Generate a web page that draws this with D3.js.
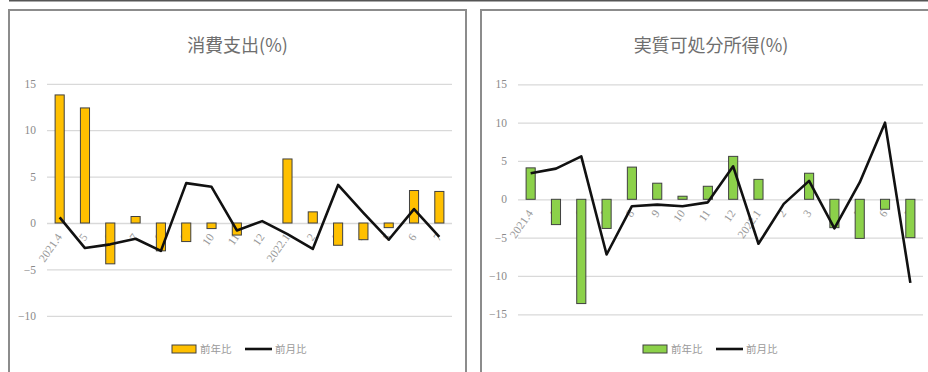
<!DOCTYPE html>
<html><head><meta charset="utf-8">
<script src="https://cdn.jsdelivr.net/npm/d3@7"></script>
<style>body{margin:0;background:#fff}svg{display:block}</style>
</head><body>
<svg id="c" width="928" height="372"></svg>
<script>
const categories = ["2021.4","5","6","7","8","9","10","11","12","2022.1","2","3","4","5","6","7"];
const spendYoY = [13.8,12.4,-4.4,0.7,-3.0,-2.0,-0.6,-1.3,0,6.9,1.2,-2.4,-1.8,-0.5,3.5,3.4];
const spendMoM = [0.6,-2.7,-2.3,-1.7,-3.0,4.3,3.9,-0.8,0.2,-1.2,-2.8,4.1,1.1,-1.8,1.5,-1.5];
const incomeYoY = [4.1,-3.3,-13.6,-3.8,4.2,2.1,0.4,1.7,5.6,2.6,0,3.4,-3.7,-5.1,-1.3,-5.0];
const incomeMoM = [3.4,4.0,5.6,-7.2,-0.9,-0.7,-0.9,-0.4,4.3,-5.8,-0.6,2.4,-3.8,2.2,10.0,-10.9];
const spendTicks = [-10,-5,0,5,10,15];
const incomeTicks = [-15,-10,-5,0,5,10,15];
const legendLabels = ["前年比","前月比"];

const svg = d3.select("#c");
svg.append("line").attr("x1",9).attr("x2",928).attr("y1",0.5).attr("y2",0.5).attr("stroke","#555").attr("stroke-width",2);

function panel(o){
  const g = svg.append("g");
  g.append("rect").attr("x",o.px).attr("y",10).attr("width",o.pw).attr("height",380)
    .attr("fill","#fff").attr("stroke","#8c8c8c").attr("stroke-width",2);
  g.append("text").attr("x",o.px+o.pw/2).attr("y",52).attr("text-anchor","middle")
    .attr("font-family","Noto Sans CJK JP").attr("font-size",18).attr("fill","#6e6e6e").text(o.title);
  const x = d3.scaleBand().domain(categories.map((c,i)=>i)).range([o.x0,o.x1]).paddingInner(0.64).paddingOuter(0.32);
  const y = d3.scaleLinear().domain(o.domain).range([o.y1,o.y0]);
  const yAxis = d3.axisLeft(y).tickValues(o.ticks).tickSize(-(o.x1-o.x0)).tickPadding(11).tickFormat(d3.format("d"));
  const ag = g.append("g").attr("transform",`translate(${o.x0},0)`).call(yAxis);
  ag.select(".domain").remove();
  ag.selectAll(".tick line").attr("stroke","#d9d9d9").attr("stroke-width",1.3);
  ag.selectAll(".tick text").attr("font-family","Liberation Serif").attr("font-size",11.5).attr("fill","#8a8a8a");
  const cx = i=>x(i)+x.bandwidth()/2;
  // x labels (under the bars)
  g.selectAll(".xl").data(categories).join("text")
    .attr("transform",(d,i)=>`translate(${cx(i)+3},${y(0)+14}) rotate(-55)`)
    .attr("text-anchor","end").attr("font-family","Liberation Serif").attr("font-size",11.5)
    .attr("fill","#9a9a9a").text(d=>d);
  // bars
  g.selectAll(".bar").data(o.bars).join("rect")
    .attr("x",(d,i)=>x(i)).attr("width",x.bandwidth())
    .attr("y",d=>y(Math.max(0,d))).attr("height",d=>Math.abs(y(d)-y(0)))
    .attr("fill",o.color).attr("stroke","#404040").attr("stroke-width",1);
  // line
  const line = d3.line().x((d,i)=>cx(i)).y(d=>y(d));
  g.append("path").datum(o.line).attr("d",line).attr("fill","none")
    .attr("stroke","#111").attr("stroke-width",2.6).attr("stroke-linejoin","round");
  // legend
  const lx = o.lx, ly = 349;
  g.append("rect").attr("x",lx).attr("y",ly-4).attr("width",24).attr("height",8)
    .attr("fill",o.color).attr("stroke","#404040").attr("stroke-width",1);
  g.append("text").attr("x",lx+28).attr("y",ly+4).attr("font-family","Noto Sans CJK JP").attr("font-size",10.5)
    .attr("fill","#9a9a9a").text(legendLabels[0]);
  g.append("line").attr("x1",lx+73).attr("x2",lx+100).attr("y1",ly).attr("y2",ly).attr("stroke","#111").attr("stroke-width",2.6);
  g.append("text").attr("x",lx+103).attr("y",ly+4).attr("font-family","Noto Sans CJK JP").attr("font-size",10.5)
    .attr("fill","#9a9a9a").text(legendLabels[1]);
}

panel({px:9,pw:457,title:"消費支出(%)",x0:47,x1:452,y0:83.8,y1:315.8,domain:[-10,15],ticks:spendTicks,
  bars:spendYoY,line:spendMoM,color:"#FFC000",lx:172});
panel({px:481,pw:460,title:"実質可処分所得(%)",x0:518,x1:923,y0:84.3,y1:314.3,domain:[-15,15],ticks:incomeTicks,
  bars:incomeYoY,line:incomeMoM,color:"#8CD14A",lx:643});
</script>
</body></html>
